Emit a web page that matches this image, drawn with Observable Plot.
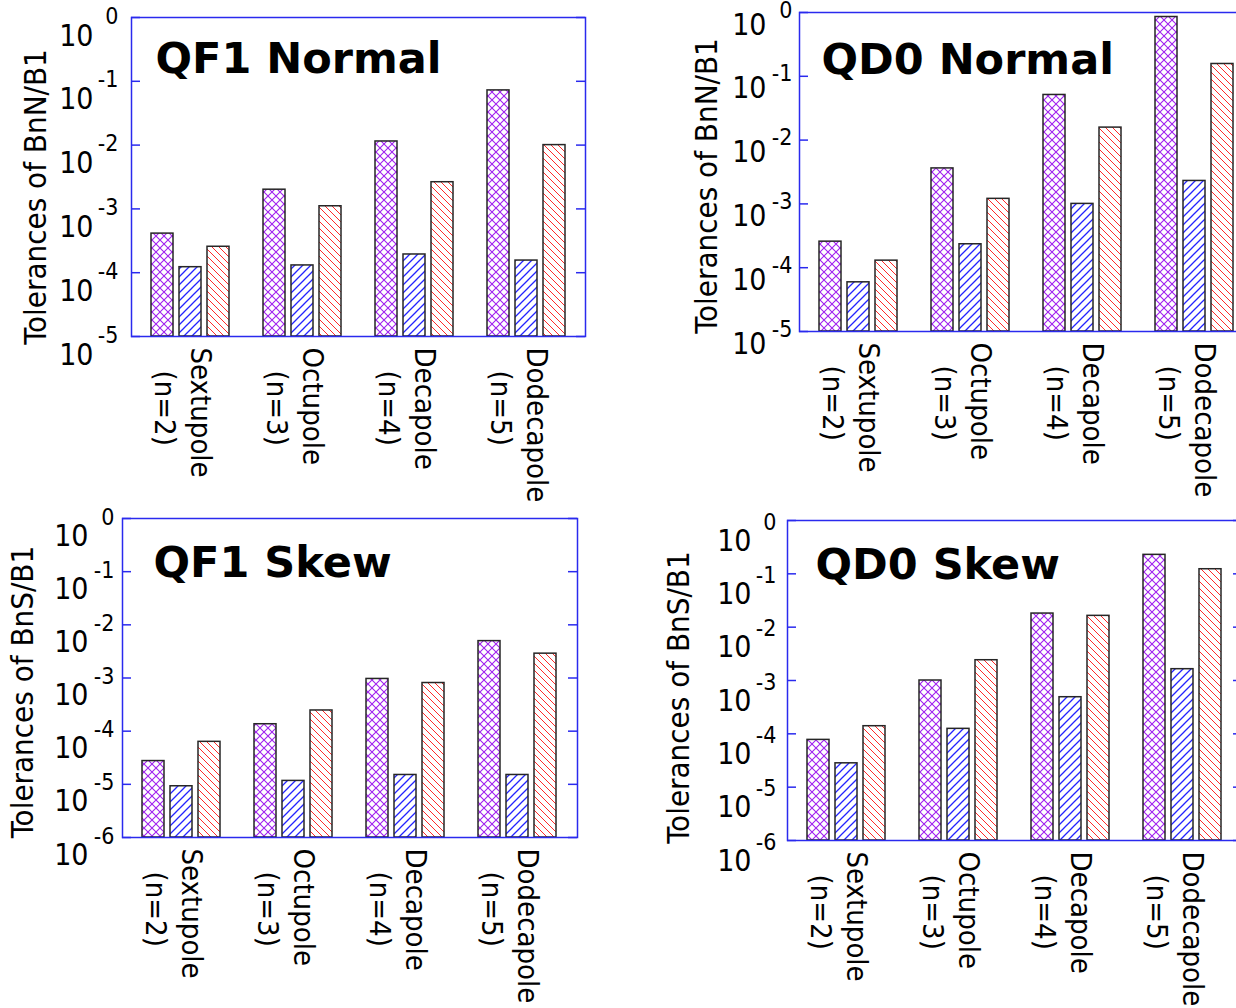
<!DOCTYPE html>
<html><head><meta charset="utf-8">
<script src="https://cdn.jsdelivr.net/npm/d3@7"></script>
<script src="https://cdn.jsdelivr.net/npm/@observablehq/plot@0.6"></script>
<style>
html,body{margin:0;padding:0;background:#fff;overflow:hidden;}
#root{position:relative;width:1236px;height:1008px;overflow:hidden;background:#fff;}
#root svg.plot{position:absolute;}
</style></head><body>
<svg width="0" height="0" style="position:absolute">
<defs>
<pattern id="hatchPurple" patternUnits="userSpaceOnUse" width="8" height="8">
 <rect width="8" height="8" fill="#ffffff"/>
 <path d="M0,0L8,8M0,8L8,0" fill="none" stroke="#a020f0" stroke-width="1.1"/>
</pattern>
<pattern id="hatchBlue" patternUnits="userSpaceOnUse" width="8" height="8">
 <rect width="8" height="8" fill="#ffffff"/>
 <path d="M0,8L8,0M-2,2L2,-2M6,10L10,6" fill="none" stroke="#2424ff" stroke-width="1.3"/>
</pattern>
<pattern id="hatchRed" patternUnits="userSpaceOnUse" width="7" height="7">
 <rect width="7" height="7" fill="#ffffff"/>
 <path d="M0,0L7,7M-2,5L2,9M5,-2L9,2" fill="none" stroke="#ff2a2a" stroke-width="1"/>
</pattern>
</defs></svg>
<div id="root"></div>
<script>
// ---- data ----
const categories = ["Sextupole", "Octupole", "Decapole", "Dodecapole"];
const nLabels = ["(n=2)", "(n=3)", "(n=4)", "(n=5)"];
const seriesNames = ["A", "B", "C"];

const qf1NormalA = [4.1e-4, 2.0e-3, 1.14e-2, 7.2e-2];
const qf1NormalB = [1.22e-4, 1.30e-4, 1.93e-4, 1.55e-4];
const qf1NormalC = [2.55e-4, 1.10e-3, 2.62e-3, 1.0e-2];

const qd0NormalA = [2.56e-4, 3.6e-3, 5.1e-2, 0.85];
const qd0NormalB = [5.9e-5, 2.33e-4, 1.0e-3, 2.29e-3];
const qd0NormalC = [1.29e-4, 1.2e-3, 1.57e-2, 0.156];

const qf1SkewA = [2.74e-5, 1.35e-4, 9.6e-4, 4.94e-3];
const qf1SkewB = [9.2e-6, 1.16e-5, 1.5e-5, 1.5e-5];
const qf1SkewC = [6.3e-5, 2.45e-4, 8.05e-4, 2.87e-3];

const qd0SkewA = [7.7e-5, 1.0e-3, 1.8e-2, 0.227];
const qd0SkewB = [2.8e-5, 1.24e-4, 4.86e-4, 1.63e-3];
const qd0SkewC = [1.39e-4, 2.4e-3, 1.63e-2, 0.122];

const normalTicks = [1e-5, 1e-4, 1e-3, 1e-2, 1e-1, 1e0];
const skewTicks = [1e-6, 1e-5, 1e-4, 1e-3, 1e-2, 1e-1, 1e0];

// ---- style ----
const patternFills = ["url(#hatchPurple)", "url(#hatchBlue)", "url(#hatchRed)"];
const axisBlue = "#2a2aee";
const font = "'DejaVu Sans Condensed', 'DejaVu Sans', sans-serif";
const titleFont = "'DejaVu Sans', sans-serif";

function panel(cfg) {
  const {values, ticks, title, ylabel, left, top, width, height, mL, mT, mR, mB,
         tenDx, expDx, tenDy, expDy, titleDx, titleDy, ylabDx, ylabDy} = cfg;
  const slots = [];
  categories.forEach((c, i) => {
    seriesNames.forEach(s => slots.push(c + "|" + s));
    if (i < categories.length - 1) slots.push("gap" + i);
  });
  const ymin = ticks[0], ymax = ticks[ticks.length - 1];
  const fw = width - mL - mR;
  const barMarks = seriesNames.map((s, j) =>
    Plot.barY(categories.map((c, i) => ({category: c, series: s, slot: c + "|" + s, value: values[j][i]})),
      {x: "slot", y1: () => ymin, y2: "value", fill: patternFills[j], stroke: "#262626", strokeWidth: 1.5}));
  const svg = Plot.plot({
    width, height, marginLeft: mL, marginTop: mT, marginRight: mR, marginBottom: mB,
    style: {fontFamily: font, background: "transparent", overflow: "visible"},
    x: {type: "band", domain: slots, paddingInner: 0.21, paddingOuter: 0.605, axis: null},
    y: {type: "log", domain: [ymin, ymax], axis: null},
    marks: [
      ...barMarks,
      Plot.tickY(ticks, {y: d => d, stroke: axisBlue, strokeWidth: 1.5, insetRight: fw - 9}),
      Plot.tickY(ticks, {y: d => d, stroke: axisBlue, strokeWidth: 1.5, insetLeft: fw - 9}),
      Plot.frame({stroke: axisBlue, strokeWidth: 1.5}),
      Plot.text(ticks, {y: d => d, text: () => "10", frameAnchor: "left", textAnchor: "end", lineAnchor: "bottom",
        dx: tenDx, dy: tenDy, fontSize: 30, fill: "#000"}),
      Plot.text(ticks, {y: d => d, text: d => String(Math.round(Math.log10(d))), frameAnchor: "left", textAnchor: "end",
        lineAnchor: "bottom", dx: expDx, dy: expDy, fontSize: 23, fill: "#000"}),
      Plot.text(categories, {x: c => c + "|" + seriesNames[1], text: d => d, frameAnchor: "bottom", rotate: 90,
        textAnchor: "start", lineAnchor: "middle", dx: 10, dy: 11, fontSize: 29, fill: "#000"}),
      Plot.text(categories.map((c, i) => ({c, n: nLabels[i]})), {x: d => d.c + "|" + seriesNames[1], text: d => d.n,
        frameAnchor: "bottom", rotate: 90, textAnchor: "start", lineAnchor: "middle", dx: -26, dy: 34, fontSize: 29, fill: "#000"}),
      Plot.text([title], {text: d => d, frameAnchor: "top-left", textAnchor: "start", lineAnchor: "bottom",
        dx: titleDx, dy: titleDy, fontSize: 43, fontWeight: "bold", fontFamily: titleFont, fill: "#000"}),
      Plot.text([ylabel], {text: d => d, frameAnchor: "left", rotate: -90, textAnchor: "middle", lineAnchor: "middle",
        dx: ylabDx, dy: ylabDy, fontSize: 31, fill: "#000"})
    ]
  });
  svg.classList.add("plot");
  svg.style.left = left + "px";
  svg.style.top = top + "px";
  document.getElementById("root").appendChild(svg);
}

panel({values: [qf1NormalA, qf1NormalB, qf1NormalC], ticks: normalTicks, title: "QF1 Normal", ylabel: "Tolerances of BnN/B1",
  left: 0, top: 0, width: 600, height: 500, mL: 131, mT: 17, mR: 15, mB: 164,
  tenDx: -38, expDx: -13, tenDy: 28, expDy: 6, titleDx: 24, titleDy: 55, ylabDx: -95, ylabDy: 20});
panel({values: [qd0NormalA, qd0NormalB, qd0NormalC], ticks: normalTicks, title: "QD0 Normal", ylabel: "Tolerances of BnN/B1",
  left: 600, top: 0, width: 670, height: 500, mL: 199, mT: 12, mR: 16, mB: 169,
  tenDx: -33, expDx: -7, tenDy: 22, expDy: 5, titleDx: 22, titleDy: 61, ylabDx: -92, ylabDy: 14});
panel({values: [qf1SkewA, qf1SkewB, qf1SkewC], ticks: skewTicks, title: "QF1 Skew", ylabel: "Tolerances of BnS/B1",
  left: 0, top: 500, width: 600, height: 508, mL: 122, mT: 18, mR: 23, mB: 171,
  tenDx: -34, expDx: -8, tenDy: 27, expDy: 6, titleDx: 31, titleDy: 58, ylabDx: -99, ylabDy: 14});
panel({values: [qd0SkewA, qd0SkewB, qd0SkewC], ticks: skewTicks, title: "QD0 Skew", ylabel: "Tolerances of BnS/B1",
  left: 600, top: 500, width: 670, height: 508, mL: 187, mT: 20, mR: 28, mB: 168,
  tenDx: -36, expDx: -11, tenDy: 30, expDy: 9, titleDx: 28, titleDy: 58, ylabDx: -108, ylabDy: 17});
</script>
</body></html>
